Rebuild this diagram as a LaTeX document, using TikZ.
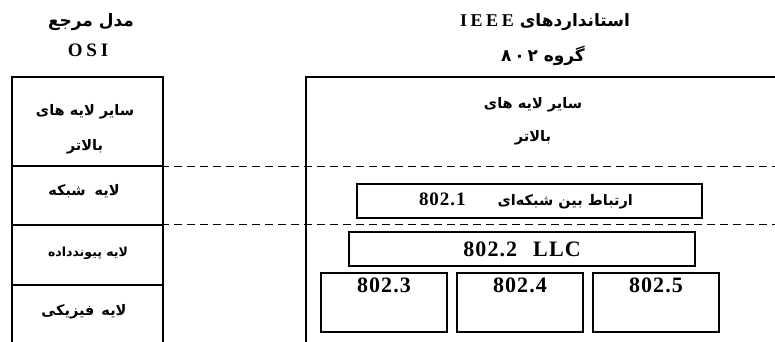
\documentclass[tikz,border=0pt]{standalone}
\usepackage{fontspec}
\setmainfont{Liberation Serif}
\newfontfamily\persianfont[Script=Arabic]{DejaVu Sans}
\newfontfamily\widefont[LetterSpace=20]{Liberation Serif}
\newfontfamily\numfont[LetterSpace=5]{Liberation Serif}
\TeXXeTstate=1
\usetikzlibrary{positioning}
\newcommand{\fatext}[1]{{\persianfont\bfseries\beginR #1\endR}}

\tikzset{
	layerbox/.style={draw, line width=1.2pt, minimum width=151pt, anchor=north west, inner sep=0pt, outer sep=0pt},
	stdbox/.style={draw, line width=1.2pt, anchor=north west, inner sep=0pt, outer sep=0pt},
	fa/.style={font=\fontsize{14.5}{17}\selectfont, inner sep=0pt},
	fahead/.style={font=\fontsize{17}{20}\selectfont, inner sep=0pt},
	fasmall/.style={font=\fontsize{12.5}{15}\selectfont, inner sep=0pt},
	head/.style={font=\widefont\bfseries\fontsize{19}{22}\selectfont, inner sep=0pt},
	num/.style={font=\numfont\bfseries\fontsize{22}{26}\selectfont, inner sep=0pt},
	sep/.style={dash pattern=on 8pt off 5pt, line width=0.8pt},
}

\begin{document}
\begin{tikzpicture}[x=1pt, y=-1pt]
	\useasboundingbox (0,0) rectangle (775,342);
	\clip (0,0) rectangle (775,342);
	% column heads
	\node[fahead] (osititle) at (91,22) {\fatext{مدل مرجع}};
	\node[head] (osi) at (88,50) {OSI};
	\node[fahead] (ieeetitle) at (545,22) {\fatext{استانداردهای \beginL{\widefont\bfseries\fontsize{18}{22}\selectfont IEEE}\endL}};
	\node[fahead] (group) at (543,56) {\fatext{گروه \beginL ۸\,۰\,۲\endL}};
	
	% OSI layers
	\node[layerbox, minimum height=89pt] (upper) at (12,77) {};
	\node[layerbox, minimum height=59pt] (network) at (upper.south west) {};
	\node[layerbox, minimum height=60pt] (datalink) at (network.south west) {};
	\node[layerbox, minimum height=80pt] (physical) at (datalink.south west) {};
	\node[fa, align=center] (upperlbl) at (85,129) {\fatext{سایر لایه های}\\[18pt]\fatext{بالاتر}};
	\node[fa] (networklbl) at (84,191) {\fatext{لایه\hspace{9pt}شبکه}};
	\node[fasmall] (datalinklbl) at (88,253) {\fatext{لایه پیوندداده}};
	\node[fa] (physicallbl) at (84,312) {\fatext{لایه\hspace{7pt}فیزیکی}};
	
	% 802 side
	\draw[line width=1.6pt] (775,77) -| (306,350);
	\foreach \y in {166,224.5}
	\draw[sep] (148,\y) -- (775,\y);
	\node[fa, align=center] (ieeeupper) at (533,121) {\fatext{سایر لایه های}\\[16pt]\fatext{بالاتر}};
	\node[stdbox, minimum width=345pt, minimum height=34pt] (internet) at (357,184) {};
	\node[fa] (internetlbl) at (526,201) {\fatext{ارتباط بین شبکه‌ای\hspace{32pt}\beginL{\numfont\bfseries\fontsize{19}{22}\selectfont 802.1}\endL}};
	\node[stdbox, minimum width=346pt, minimum height=34pt] (llc) at (349,232) {};
	\node[num] (llclbl) at (llc.center) {802.2\hspace{16pt}LLC};
	\foreach \n/\x in {3/321, 4/457, 5/593}
	\node[stdbox, minimum width=126pt, minimum height=59pt,
		label={[num, anchor=north, yshift=-5pt]north:802.\n}] (ieee\n) at (\x,273) {};
	
\end{tikzpicture}
\end{document}
